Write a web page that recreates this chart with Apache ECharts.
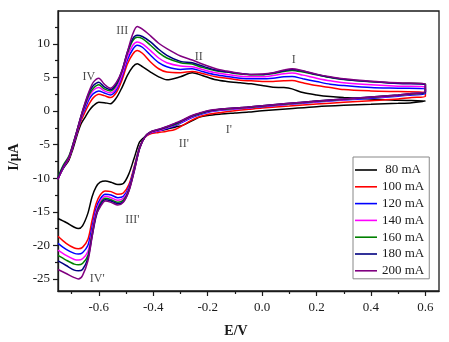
<!DOCTYPE html>
<html>
<head>
<meta charset="utf-8">
<script src="https://cdn.jsdelivr.net/npm/echarts@6/dist/echarts.min.js"></script>
<style>
  html, body { margin: 0; padding: 0; background: #fff; }
  #chart { width: 449px; height: 342px; }
</style>
</head>
<body>
<div id="chart"></div>
<script>
// Potentials (V) of the forward (anodic) sweep, left to right
const anodicE = [-0.75, -0.73, -0.71, -0.695, -0.68, -0.665, -0.65, -0.635, -0.62, -0.60,
  -0.58, -0.557, -0.535, -0.515, -0.495, -0.475, -0.459, -0.44, -0.41, -0.38,
  -0.35, -0.30, -0.257, -0.22, -0.17, -0.13, -0.08, -0.04, 0.0, 0.04,
  0.08, 0.11, 0.15, 0.2, 0.25, 0.3, 0.4, 0.5, 0.6];

// Potentials (V) of the reverse (cathodic) sweep, right to left
const cathodicE = [0.6, 0.55, 0.5, 0.4, 0.3, 0.2, 0.1, 0.0, -0.05, -0.1,
  -0.15, -0.2, -0.23, -0.26, -0.29, -0.32, -0.35, -0.38, -0.41, -0.43,
  -0.45, -0.47, -0.49, -0.51, -0.53, -0.555, -0.576, -0.595, -0.61, -0.625,
  -0.64, -0.66, -0.675, -0.69, -0.72, -0.75];

// Currents (µA), anodic sweep
const up80  = [-10.0, -8.5, -7.3, -5.6, -3.6, -1.9, -0.9, 0.1, 0.8, 1.3,
  1.25, 1.1, 2.0, 3.5, 5.3, 6.6, 7.05, 6.6, 5.8, 5.1,
  4.65, 5.1, 5.7, 5.3, 4.65, 4.4, 4.2, 4.05, 3.8, 3.55,
  3.5, 3.3, 2.75, 2.4, 2.15, 2.0, 1.8, 1.6, 1.5];
const up100 = [-10.0, -8.4, -7.1, -5.3, -3.3, -1.4, -0.1, 1.1, 2.0, 2.5,
  2.3, 2.0, 2.8, 4.6, 7.0, 8.5, 9.0, 8.6, 7.3, 6.3,
  5.8, 5.7, 5.9, 5.6, 5.1, 4.9, 4.6, 4.5, 4.4, 4.4,
  4.5, 4.55, 4.2, 3.8, 3.5, 3.2, 3.0, 2.9, 2.8];
const up120 = [-10.1, -8.4, -7.0, -5.2, -3.2, -1.1, 0.4, 1.8, 2.6, 3.0,
  2.7, 2.4, 3.2, 5.1, 7.6, 9.2, 9.8, 9.5, 8.3, 7.2,
  6.6, 6.2, 6.3, 5.9, 5.4, 5.15, 4.9, 4.8, 4.8, 4.9,
  5.1, 5.15, 4.8, 4.4, 4.0, 3.8, 3.5, 3.4, 3.3];
const up140 = [-10.1, -8.3, -7.0, -5.1, -3.1, -1.0, 0.8, 2.2, 3.1, 3.5,
  3.0, 2.7, 3.5, 5.4, 8.1, 9.8, 10.3, 10.0, 9.0, 7.9,
  7.2, 6.7, 6.6, 6.2, 5.7, 5.45, 5.2, 5.1, 5.1, 5.3,
  5.55, 5.65, 5.35, 4.9, 4.5, 4.2, 3.9, 3.7, 3.6];
const up160 = [-9.8, -8.0, -6.7, -4.9, -2.9, -0.8, 1.0, 2.5, 3.4, 3.9,
  3.3, 3.0, 3.9, 5.9, 8.6, 10.5, 11.0, 10.8, 9.8, 8.7,
  7.9, 7.2, 7.0, 6.5, 6.0, 5.8, 5.5, 5.4, 5.4, 5.6,
  5.9, 6.05, 5.8, 5.4, 5.0, 4.7, 4.35, 4.15, 4.05];
const up180 = [-10.0, -8.2, -6.9, -5.0, -2.9, -0.7, 1.2, 2.8, 3.8, 4.3,
  3.6, 3.2, 4.1, 6.0, 8.8, 10.8, 11.3, 11.1, 10.3, 9.2,
  8.3, 7.4, 7.2, 6.7, 6.1, 5.85, 5.6, 5.45, 5.45, 5.65,
  6.0, 6.2, 5.95, 5.45, 5.05, 4.75, 4.4, 4.1, 3.95];
const up200 = [-10.2, -8.3, -6.9, -5.0, -2.9, -0.7, 1.3, 3.0, 4.3, 4.9,
  4.0, 3.4, 4.3, 6.0, 8.8, 11.5, 12.6, 12.2, 11.2, 10.1,
  9.3, 8.2, 7.6, 7.0, 6.3, 5.95, 5.6, 5.45, 5.5, 5.7,
  6.1, 6.3, 6.0, 5.5, 5.1, 4.8, 4.45, 4.2, 4.0];

// Currents (µA), cathodic sweep
const down80  = [1.5, 1.25, 1.15, 1.0, 0.85, 0.65, 0.35, 0.05, -0.15, -0.3,
  -0.45, -0.65, -0.9, -1.5, -2.1, -2.4, -2.7, -2.95, -3.3, -3.8,
  -4.6, -7.0, -9.4, -10.8, -10.95, -10.6, -10.4, -10.6, -11.3, -12.8,
  -15.2, -17.1, -17.5, -17.3, -16.6, -16.0];
const down100 = [2.2, 2.0, 1.8, 1.55, 1.3, 1.05, 0.75, 0.45, 0.25, 0.05,
  -0.2, -0.5, -0.85, -1.4, -2.1, -2.75, -3.0, -3.2, -3.4, -3.9,
  -5.3, -8.3, -11.0, -12.2, -12.4, -12.0, -11.9, -12.5, -13.8, -16.3,
  -19.1, -20.3, -20.5, -20.4, -19.7, -18.65];
const down120 = [2.6, 2.4, 2.2, 1.9, 1.65, 1.35, 1.0, 0.65, 0.45, 0.3,
  0.1, -0.2, -0.55, -1.0, -1.6, -2.2, -2.6, -2.95, -3.25, -3.85,
  -5.4, -8.5, -11.4, -12.7, -12.9, -12.5, -12.4, -13.1, -14.5, -17.3,
  -20.0, -21.1, -21.3, -21.2, -20.6, -19.7];
const down140 = [2.8, 2.5, 2.3, 2.0, 1.7, 1.4, 1.05, 0.7, 0.5, 0.35,
  0.2, -0.1, -0.45, -0.9, -1.5, -2.1, -2.5, -2.9, -3.2, -3.85,
  -5.45, -8.7, -11.6, -13.0, -13.3, -12.9, -12.7, -13.5, -15.0, -18.0,
  -20.9, -22.0, -22.2, -22.1, -21.5, -20.7];
const down160 = [2.8, 2.55, 2.35, 2.05, 1.75, 1.45, 1.1, 0.75, 0.55, 0.4,
  0.25, -0.05, -0.4, -0.8, -1.4, -2.0, -2.4, -2.8, -3.15, -3.8,
  -5.5, -8.8, -11.8, -13.3, -13.6, -13.2, -13.0, -13.8, -15.4, -18.4,
  -21.5, -22.7, -22.9, -22.8, -22.2, -21.5];
const down180 = [2.85, 2.6, 2.4, 2.1, 1.8, 1.5, 1.15, 0.8, 0.6, 0.45,
  0.3, 0.0, -0.35, -0.75, -1.35, -1.9, -2.35, -2.75, -3.1, -3.8,
  -5.55, -8.9, -11.9, -13.5, -13.8, -13.4, -13.2, -14.0, -15.7, -18.7,
  -21.9, -23.6, -23.8, -23.7, -23.0, -22.3];
const down200 = [2.9, 2.6, 2.4, 2.1, 1.8, 1.5, 1.15, 0.8, 0.6, 0.45,
  0.3, 0.05, -0.3, -0.7, -1.3, -1.8, -2.3, -2.7, -3.1, -3.8,
  -5.6, -9.0, -12.0, -13.6, -14.0, -13.6, -13.4, -14.3, -15.5, -18.8,
  -22.3, -24.5, -25.0, -24.8, -24.2, -23.6];

const seriesNames = ['80 mA', '100 mA', '120 mA', '140 mA', '160 mA', '180 mA', '200 mA'];
const seriesColors = ['#000000', '#ff0000', '#0000ff', '#ff00ff', '#008000', '#000080', '#800080'];
const anodicSets = [up80, up100, up120, up140, up160, up180, up200];
const cathodicSets = [down80, down100, down120, down140, down160, down180, down200];

// Tick positions and labels
const xMajorTicks = [-0.6, -0.4, -0.2, 0.0, 0.2, 0.4, 0.6];
const xMinorTicks = [-0.7, -0.5, -0.3, -0.1, 0.1, 0.3, 0.5];
const yMajorTicks = [-25, -20, -15, -10, -5, 0, 5, 10];
const yMinorTicks = [-22.5, -17.5, -12.5, -7.5, -2.5, 2.5, 7.5, 12.5];

// Peak annotations [label, E, I]
const peakLabels = [
  ['IV', -0.637, 5.1], ['III', -0.514, 12.0], ['II', -0.233, 8.06], ['I', 0.116, 7.68],
  ['IV\'', -0.606, -25.05], ['III\'', -0.477, -16.26], ['II\'', -0.288, -4.83], ['I\'', -0.122, -2.85]
];

const serif = '"Liberation Serif", "Times New Roman", serif';
const ink = '#1a1a1a';

const lineSeries = seriesNames.map((name, k) => ({
  name: name,
  type: 'line',
  xAxisIndex: 0,
  yAxisIndex: 0,
  symbol: 'none',
  smooth: 0.3,
  lineStyle: { color: seriesColors[k], width: 1.5 },
  itemStyle: { color: seriesColors[k] },
  data: anodicE.map((e, j) => [e, anodicSets[k][j]])
    .concat(cathodicE.map((e, j) => [e, cathodicSets[k][j]]))
}));

const labelSeries = {
  type: 'scatter',
  xAxisIndex: 0,
  yAxisIndex: 0,
  symbolSize: 0,
  silent: true,
  label: {
    show: true,
    position: 'inside',
    formatter: p => p.name,
    fontFamily: serif,
    fontSize: 12,
    color: ink
  },
  data: peakLabels.map(p => ({ name: p[0], value: [p[1], p[2]] }))
};

const xLimits = { min: -0.75, max: 0.65 };
const yLimits = { min: -26.8, max: 14.9 };

const chart = echarts.init(document.getElementById('chart'), null, { renderer: 'canvas' });
chart.setOption({
  animation: false,
  backgroundColor: '#fff',
  grid: {
    left: 58, right: 10, top: 11, bottom: 51,
    show: true, borderColor: ink, borderWidth: 1.3, backgroundColor: 'transparent'
  },
  legend: {
    data: seriesNames.map(n => ({ name: n, icon: 'rect' })),
    orient: 'vertical',
    left: 353, top: 157,
    itemWidth: 22, itemHeight: 1.6, itemGap: 2.8,
    padding: [6, 5, 1, 2],
    borderColor: '#888', borderWidth: 1,
    backgroundColor: '#fff',
    formatter: n => (n.length < 6 ? ' ' + n : n),
    textStyle: { fontFamily: serif, fontSize: 13, lineHeight: 14, color: ink }
  },
  xAxis: [{
    type: 'value', ...xLimits,
    axisLine: { show: true, onZero: false, lineStyle: { color: ink, width: 1.3 } },
    axisTick: { show: true, customValues: xMajorTicks, length: 5, lineStyle: { color: ink, width: 1.2 } },
    axisLabel: { customValues: xMajorTicks, formatter: v => v.toFixed(1), fontFamily: serif, fontSize: 13, color: ink, margin: 10 },
    splitLine: { show: false }
  }, {
    type: 'value', ...xLimits, position: 'bottom',
    axisLine: { show: false, onZero: false },
    axisTick: { show: true, customValues: xMinorTicks, length: 3, lineStyle: { color: ink, width: 1.2 } },
    axisLabel: { show: false },
    splitLine: { show: false }
  }],
  yAxis: [{
    type: 'value', ...yLimits,
    axisLine: { show: true, onZero: false, lineStyle: { color: ink, width: 1.3 } },
    axisTick: { show: true, customValues: yMajorTicks, length: 5, lineStyle: { color: ink, width: 1.2 } },
    axisLabel: { customValues: yMajorTicks, formatter: v => String(v), fontFamily: serif, fontSize: 13, color: ink, margin: 8 },
    splitLine: { show: false }
  }, {
    type: 'value', ...yLimits, position: 'left',
    axisLine: { show: false, onZero: false },
    axisTick: { show: true, customValues: yMinorTicks, length: 3, lineStyle: { color: ink, width: 1.2 } },
    axisLabel: { show: false },
    splitLine: { show: false }
  }],
  graphic: [{
    type: 'text', x: 236, y: 331,
    style: { text: 'E/V', font: 'bold 14px ' + serif, fill: ink, textAlign: 'center', textVerticalAlign: 'middle' }
  }, {
    type: 'text', x: 14, y: 157, rotation: Math.PI / 2,
    style: { text: 'I/μA', font: 'bold 14px ' + serif, fill: ink, textAlign: 'center', textVerticalAlign: 'middle' }
  }],
  series: lineSeries.concat([labelSeries])
});
</script>
</body>
</html>
